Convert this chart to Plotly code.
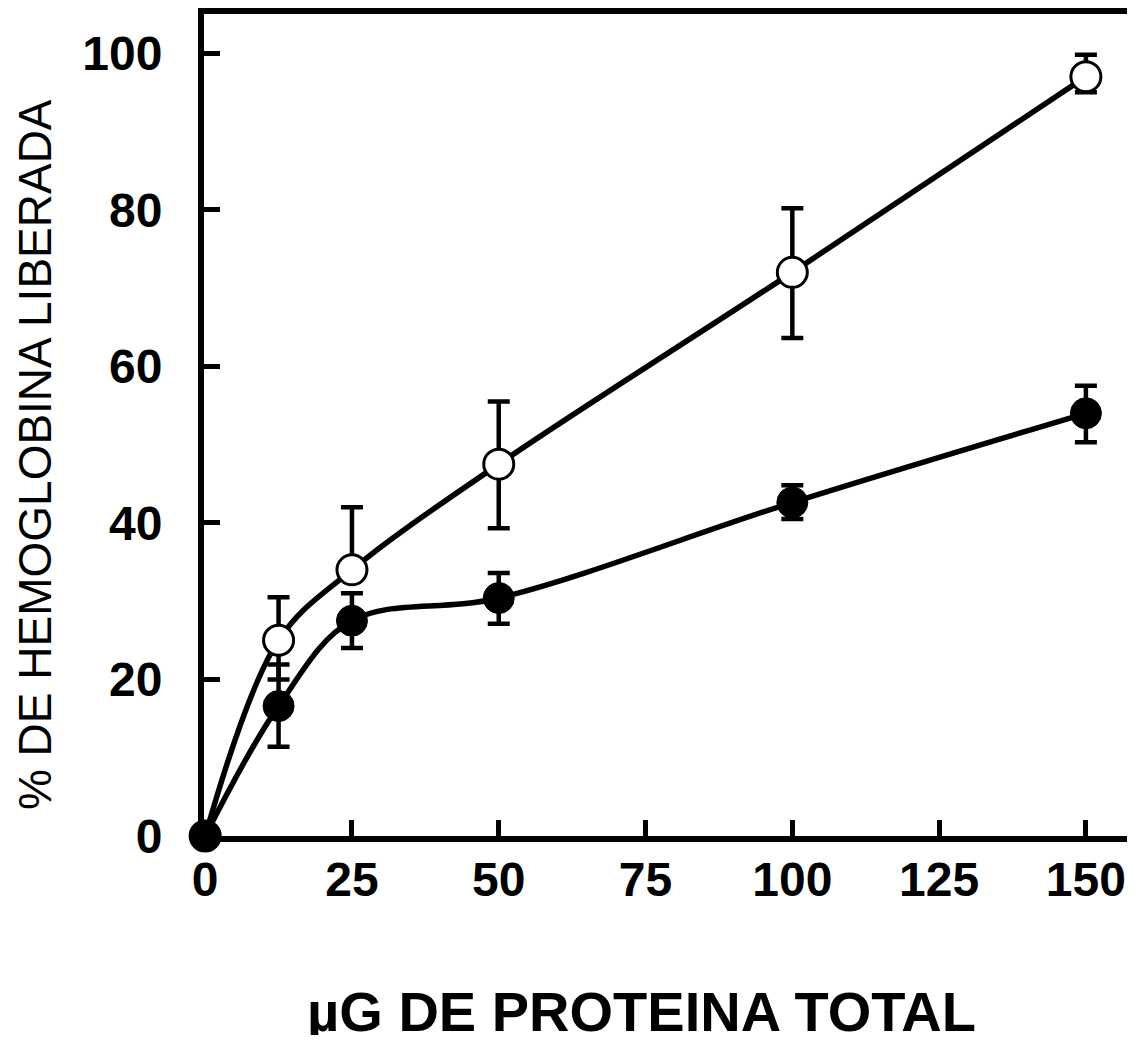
import plotly.graph_objects as go

x_vals = [0, 12.5, 25, 50, 100, 150]
open_y = [0, 25.0, 34.0, 47.5, 72.0, 97.0]
open_err_plus = [0, 5.5, 8.0, 8.0, 8.2, 2.8]
open_err_minus = [0, 5.0, 0, 8.2, 8.4, 2.0]
filled_y = [0, 16.6, 27.5, 30.4, 42.6, 54.0]
filled_err_plus = [0, 5.3, 3.5, 3.2, 2.2, 3.5]
filled_err_minus = [0, 5.2, 3.5, 3.3, 2.1, 3.7]

x_ticks = [0, 25, 50, 75, 100, 125, 150]
y_ticks = [0, 20, 40, 60, 80, 100]
x_title = "µG DE PROTEINA TOTAL"
y_title = "% DE HEMOGLOBINA LIBERADA"

fig = go.Figure()
fig.add_trace(go.Scatter(
    x=x_vals, y=filled_y, mode="lines+markers",
    line=dict(color="black", width=5.5, shape="spline", smoothing=1.0),
    marker=dict(color="black", size=31, line=dict(color="black", width=1)),
    error_y=dict(type="data", array=filled_err_plus, arrayminus=filled_err_minus,
                 symmetric=False, color="black", thickness=4.5, width=11),
    cliponaxis=False, showlegend=False))
fig.add_trace(go.Scatter(
    x=x_vals, y=open_y, mode="lines+markers",
    line=dict(color="black", width=5.5, shape="spline", smoothing=1.0),
    marker=dict(color="white", size=30, line=dict(color="black", width=3)),
    error_y=dict(type="data", array=open_err_plus, arrayminus=open_err_minus,
                 symmetric=False, color="black", thickness=4.5, width=11),
    cliponaxis=False, showlegend=False))
# marker at origin drawn filled on top
fig.add_trace(go.Scatter(
    x=x_vals[:1], y=filled_y[:1], mode="markers",
    marker=dict(color="black", size=31), cliponaxis=False, showlegend=False))

tick_font = dict(family="Liberation Sans, Arial", size=48, color="black", weight="bold")

fig.update_xaxes(range=[-0.2, 157.0], tickvals=x_ticks, ticktext=[str(v) for v in x_ticks],
                 ticks="inside", ticklen=16, tickwidth=5, tickcolor="black",
                 showline=True, linewidth=6, linecolor="black", mirror=True,
                 showgrid=False, zeroline=False, tickfont=tick_font,
                 ticklabelstandoff=-4)
fig.update_yaxes(range=[0, 105], tickvals=y_ticks, ticktext=[str(v) for v in y_ticks],
                 ticks="inside", ticklen=16, tickwidth=5, tickcolor="black",
                 showline=True, linewidth=6, linecolor="black", mirror=False,
                 showgrid=False, zeroline=False, tickfont=tick_font,
                 ticklabelstandoff=26)

fig.add_annotation(text=x_title, xref="paper", yref="paper", x=0.4745, y=-0.214,
                   xanchor="center", yanchor="middle", showarrow=False,
                   font=dict(family="Liberation Sans, Arial", size=56, color="black", weight="bold"))
fig.add_annotation(text=y_title, xref="paper", yref="paper", x=-0.183, y=0.4635,
                   xanchor="center", yanchor="middle", showarrow=False, textangle=-90,
                   font=dict(family="Liberation Sans, Arial", size=46, color="black"))

fig.update_layout(width=1119, height=1027, margin=dict(l=196, r=0, t=6, b=199),
                  plot_bgcolor="white", paper_bgcolor="white")
fig.write_html("out.html")
